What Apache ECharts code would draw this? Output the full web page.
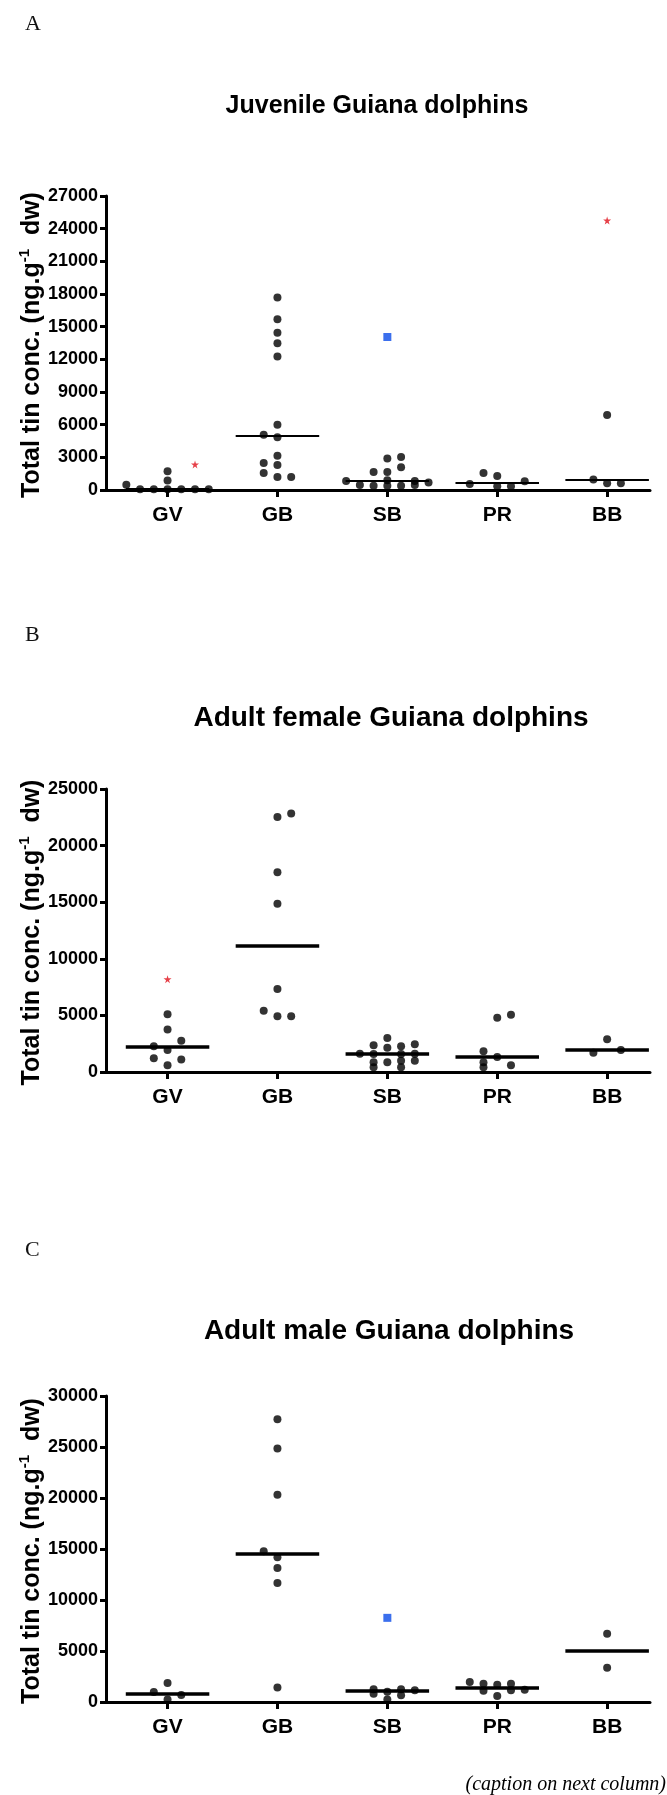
<!DOCTYPE html>
<html>
<head>
<meta charset="utf-8">
<script src="https://cdn.jsdelivr.net/npm/echarts@6/dist/echarts.min.js"></script>
<style>
  html, body { margin: 0; padding: 0; background: #fff; }
  #chart { width: 667px; height: 1795px; }
</style>
</head>
<body>
<div id="chart"></div>
<script>
var CATEGORIES = ['GV', 'GB', 'SB', 'PR', 'BB'];

// points are [categoryIndex, jitter slot (-3..3), value]
var JUV_DOTS = [
  [0, -3, 480], [0, -2, 80], [0, -1, 80], [0, 0, 80], [0, 1, 80], [0, 2, 80], [0, 3, 80],
  [0, 0, 880], [0, 0, 1730],
  [1, 0, 17680], [1, 0, 15680], [1, 0, 14430], [1, 0, 13470], [1, 0, 12270], [1, 0, 6000],
  [1, -1, 5070], [1, 0, 4850], [1, 0, 3150], [1, -1, 2480], [1, 0, 2290], [1, -1, 1550],
  [1, 0, 1200], [1, 1, 1200],
  [2, 0, 2900], [2, 1, 3030], [2, 1, 2100], [2, -1, 1650], [2, 0, 1650], [2, -3, 830],
  [2, 0, 900], [2, 2, 830], [2, 3, 700], [2, -2, 450], [2, -1, 400], [2, 0, 400],
  [2, 1, 400], [2, 2, 450],
  [3, -1, 1550], [3, 0, 1280], [3, 2, 800], [3, -2, 550], [3, 0, 350], [3, 1, 350],
  [4, 0, 6880], [4, -1, 960], [4, 0, 610], [4, 1, 610]
];
var JUV_STARS = [[0, 2, 2350], [4, 0, 24750]];
var JUV_SQUARES = [[2, 0, 14050]];
var JUV_MEDIANS = [100, 4960, 880, 670, 960];

var FEM_DOTS = [
  [0, 0, 5110], [0, 0, 3750], [0, 1, 2770], [0, -1, 2270], [0, 0, 1950], [0, -1, 1210],
  [0, 1, 1110], [0, 0, 590],
  [1, 0, 22530], [1, 1, 22830], [1, 0, 17640], [1, 0, 14870], [1, 0, 7340], [1, -1, 5410],
  [1, 0, 4920], [1, 1, 4920],
  [2, 0, 3010], [2, -1, 2370], [2, 1, 2270], [2, 2, 2450], [2, 0, 2150], [2, -2, 1610],
  [2, -1, 1600], [2, 1, 1600], [2, 2, 1610], [2, -1, 860], [2, 0, 860], [2, 1, 990],
  [2, 2, 990], [2, -1, 420], [2, 1, 420],
  [3, 0, 4790], [3, 1, 5060], [3, -1, 1830], [3, 0, 1330], [3, -1, 860], [3, 1, 590],
  [3, -1, 420],
  [4, 0, 2890], [4, -1, 1700], [4, 1, 1950]
];
var FEM_STARS = [[0, 0, 8200]];
var FEM_SQUARES = [];
var FEM_MEDIANS = [2220, 11170, 1610, 1360, 1980];

var MALE_DOTS = [
  [0, 0, 1870], [0, -1, 980], [0, 1, 680], [0, 0, 240],
  [1, 0, 27730], [1, 0, 24860], [1, 0, 20320], [1, -1, 14770], [1, 0, 14180], [1, 0, 13140],
  [1, 0, 11660], [1, 0, 1420],
  [2, -1, 1250], [2, 1, 1250], [2, 2, 1150], [2, 0, 1000], [2, -1, 800], [2, 1, 650],
  [2, 0, 240],
  [3, -2, 1950], [3, -1, 1780], [3, 0, 1680], [3, 1, 1800], [3, 2, 1200], [3, -1, 1100],
  [3, 1, 1150], [3, 0, 590],
  [4, 0, 6700], [4, 0, 3350]
];
var MALE_STARS = [];
var MALE_SQUARES = [[2, 0, 8250]];
var MALE_MEDIANS = [830, 14530, 1130, 1420, 5040];

var PANELS = [
  { letter: 'A', title: 'Juvenile Guiana dolphins', max: 27000, interval: 3000,
    dots: JUV_DOTS, stars: JUV_STARS, squares: JUV_SQUARES, medians: JUV_MEDIANS },
  { letter: 'B', title: 'Adult female Guiana dolphins', max: 25000, interval: 5000,
    dots: FEM_DOTS, stars: FEM_STARS, squares: FEM_SQUARES, medians: FEM_MEDIANS },
  { letter: 'C', title: 'Adult male Guiana dolphins', max: 30000, interval: 5000,
    dots: MALE_DOTS, stars: MALE_STARS, squares: MALE_SQUARES, medians: MALE_MEDIANS }
];

// layout of the three stacked plots
var GRID_TOPS = [196, 789, 1396];
var GRID_HEIGHTS = [294, 283, 306];
var TITLE_POS = [[377, 106, 25], [391, 718, 28], [389, 1331, 28]];
var LETTER_Y = [24, 635, 1250];
var JITTER = 0.125;
var MEDIAN_HALF = 0.38;
var SANS = '"Liberation Sans", Arial, sans-serif';
var SERIF = '"Liberation Serif", "Times New Roman", serif';

function toXY(p) {
  return [p[0] + p[1] * JITTER, p[2]];
}

var grids = [], xAxes = [], yAxes = [], series = [], graphics = [];

PANELS.forEach(function (pn, i) {
  grids.push({ left: 106, width: 544, top: GRID_TOPS[i], height: GRID_HEIGHTS[i], containLabel: false });

  // value axis so the columns sit where GraphPad put them
  xAxes.push({
    gridIndex: i, type: 'value', min: -0.56, max: 4.39,
    axisLine: { show: true, onZero: false, lineStyle: { color: '#000', width: 3 } },
    axisTick: { show: true, length: 7, customValues: [0, 1, 2, 3, 4], lineStyle: { color: '#000', width: 3 } },
    axisLabel: {
      show: true, customValues: [0, 1, 2, 3, 4], color: '#000', fontSize: 21, fontWeight: 'bold',
      fontFamily: SANS, margin: 15,
      formatter: function (v) { return CATEGORIES[Math.round(v)] || ''; }
    },
    splitLine: { show: false }
  });

  yAxes.push({
    gridIndex: i, type: 'value', min: 0, max: pn.max, interval: pn.interval,
    axisLine: { show: true, onZero: false, lineStyle: { color: '#000', width: 3 } },
    axisTick: { show: true, length: 6, lineStyle: { color: '#000', width: 3 } },
    axisLabel: {
      color: '#000', fontSize: 18, fontWeight: 'bold', fontFamily: SANS, margin: 8,
      formatter: function (v) { return String(v); }
    },
    splitLine: { show: false }
  });

  series.push({
    type: 'scatter', xAxisIndex: i, yAxisIndex: i, symbol: 'circle', symbolSize: 8,
    itemStyle: { color: '#000' }, data: pn.dots.map(toXY), z: 3
  });
  series.push({
    type: 'scatter', xAxisIndex: i, yAxisIndex: i,
    symbol: 'path://M50,0 L61,35 L98,35 L68,57 L79,91 L50,70 L21,91 L32,57 L2,35 L39,35 Z',
    symbolSize: 8, itemStyle: { color: '#e0101a' }, data: pn.stars.map(toXY), z: 3
  });
  series.push({
    type: 'scatter', xAxisIndex: i, yAxisIndex: i, symbol: 'rect', symbolSize: 8,
    itemStyle: { color: '#0a4be8' }, data: pn.squares.map(toXY), z: 3
  });
  series.push({
    type: 'lines', coordinateSystem: 'cartesian2d', xAxisIndex: i, yAxisIndex: i,
    polyline: false, silent: true, z: 4,
    lineStyle: { color: '#000', width: i === 0 ? 2 : 3.5, opacity: 1 },
    data: pn.medians.map(function (m, c) {
      return { coords: [[c - MEDIAN_HALF, m], [c + MEDIAN_HALF, m]] };
    })
  });

  var mid = GRID_TOPS[i] + GRID_HEIGHTS[i] / 2 + 2;
  graphics.push({
    type: 'text', x: 25, y: LETTER_Y[i],
    style: { text: pn.letter, fontSize: 22, fontFamily: SERIF, fill: '#111', verticalAlign: 'middle' }
  });
  graphics.push({
    type: 'text', x: TITLE_POS[i][0], y: TITLE_POS[i][1],
    style: {
      text: pn.title, fontSize: TITLE_POS[i][2], fontWeight: 'bold', fontFamily: SANS, fill: '#000',
      align: 'center', verticalAlign: 'middle'
    }
  });
  graphics.push({
    type: 'text', x: 32, y: mid, rotation: Math.PI / 2,
    style: {
      text: '{a|Total tin conc. (ng.g}{s|-1}{a|  dw)}',
      align: 'center', verticalAlign: 'middle',
      rich: {
        a: { fontSize: 25, fontWeight: 'bold', fontFamily: SANS, fill: '#000', lineHeight: 29 },
        s: { fontSize: 15, fontWeight: 'bold', fontFamily: SANS, fill: '#000', lineHeight: 15, verticalAlign: 'top' }
      }
    }
  });
});

graphics.push({
  type: 'text', x: 666, y: 1785,
  style: {
    text: '(caption on next column)', fontSize: 20, fontStyle: 'italic', fontFamily: SERIF,
    fill: '#000', align: 'right', verticalAlign: 'middle'
  }
});

var chart = echarts.init(document.getElementById('chart'), null, { renderer: 'canvas' });
chart.setOption({
  animation: false,
  backgroundColor: '#fff',
  grid: grids,
  xAxis: xAxes,
  yAxis: yAxes,
  series: series,
  graphic: graphics
});
</script>
</body>
</html>
